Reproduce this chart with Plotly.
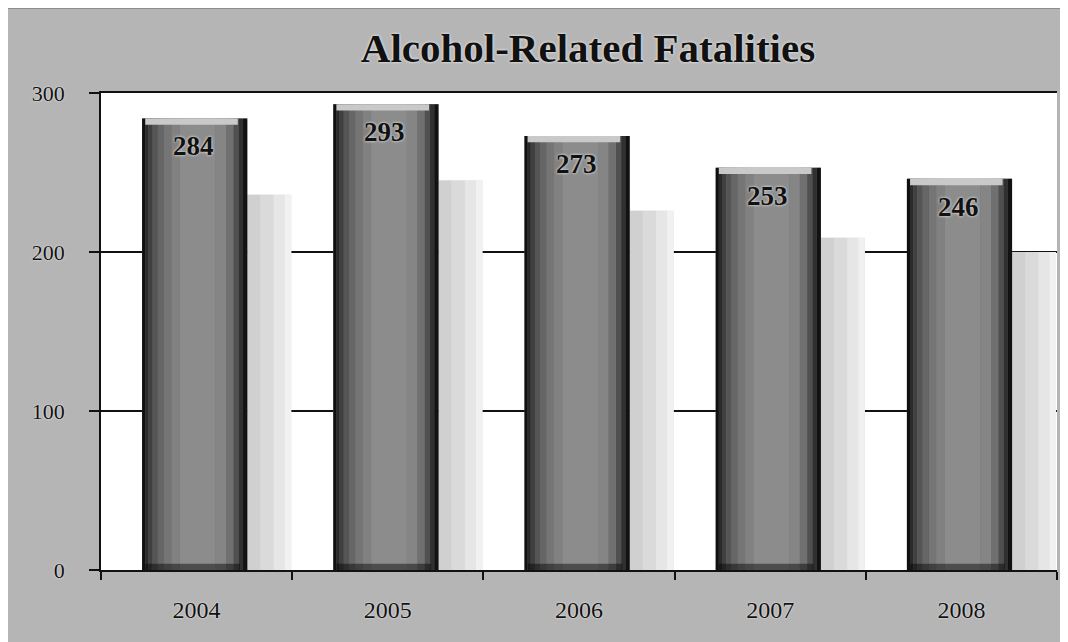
import plotly.graph_objects as go

# ---- data ----
years = ["2004", "2005", "2006", "2007", "2008"]
fatalities = [284, 293, 273, 253, 246]
shadow_heights = [236, 245, 226, 209, 200]   # light "drop shadow" behind each bar
y_ticks = [0, 100, 200, 300]
title_text = "Alcohol-Related Fatalities"

# ---- style constants ----
SERIF = "Liberation Serif, Times New Roman, serif"
FIG_W, FIG_H = 1060, 634   # page adds an 8px body margin
BAR_OFF = -0.285      # bar left edge relative to category centre (category units)
BAR_W = 0.55
SHADOW_W = 0.23
CAP = 4               # height of light top cap (data units)
BOTTOM = 4            # height of dark bottom band (data units)

# vertical strips giving a cylinder-like gradient (fraction start, end, colour)
strips = [
    (0.00, 0.03, "#101010"),
    (0.03, 0.06, "#2a2a2a"),
    (0.06, 0.10, "#404040"),
    (0.10, 0.15, "#555555"),
    (0.15, 0.21, "#666666"),
    (0.21, 0.28, "#757575"),
    (0.28, 0.36, "#818181"),
    (0.36, 0.70, "#8c8c8c"),
    (0.70, 0.80, "#858585"),
    (0.80, 0.87, "#707070"),
    (0.87, 0.92, "#505050"),
    (0.92, 0.96, "#303030"),
    (0.96, 1.00, "#121212"),
]
shadow_strips = [
    (0.00, 0.30, "#d0d0d0"),
    (0.30, 0.60, "#dadada"),
    (0.60, 0.85, "#e6e6e6"),
    (0.85, 1.00, "#f1f1f1"),
]


def add_strips(fig, values, left, total_w, spec, base_color):
    # solid underlay so antialiasing seams between strips do not show white
    fig.add_trace(go.Bar(
        x=years, y=values, offset=left, width=total_w,
        marker=dict(color=base_color, line=dict(width=0)),
        hoverinfo="skip", showlegend=False,
    ))
    for s0, s1, col in spec:
        fig.add_trace(go.Bar(
            x=years, y=values,
            offset=left + s0 * total_w, width=(s1 - s0) * total_w,
            marker=dict(color=col, line=dict(width=0)),
            hoverinfo="skip", showlegend=False,
        ))


fig = go.Figure()

# shadows, then bars
add_strips(fig, shadow_heights, BAR_OFF + BAR_W, SHADOW_W, shadow_strips, "#dcdcdc")
add_strips(fig, fatalities, BAR_OFF, BAR_W, strips, "#707070")

# dark bottom band
fig.add_trace(go.Bar(
    x=years, y=[BOTTOM] * len(years), base=[0] * len(years),
    offset=BAR_OFF + 0.03 * BAR_W, width=0.9 * BAR_W,
    marker=dict(color="rgba(0,0,0,0.45)", line=dict(width=0)),
    hoverinfo="skip", showlegend=False,
))

# light top cap
fig.add_trace(go.Bar(
    x=years, y=[CAP] * len(years), base=[v - CAP for v in fatalities],
    offset=BAR_OFF + 0.03 * BAR_W, width=0.88 * BAR_W,
    marker=dict(color="#c9c9c9", line=dict(width=0)),
    hovertemplate="%{x}<extra></extra>", showlegend=False,
))

# value labels (category index positions on the category axis)
for i, v in enumerate(fatalities):
    fig.add_annotation(
        x=i, y=v, xref="x", yref="y", text=str(v), showarrow=False,
        yanchor="top", yshift=-11, xshift=-3,
        font=dict(family=SERIF, size=27, color="#111111",
                  weight="bold", shadow="0px 0px 3px #ffffff"),
    )

# outer frame of the picture
fig.add_shape(type="rect", xref="paper", yref="paper",
              x0=-0.0985, x1=1.0075, y0=-0.2, y1=1.18,
              line=dict(color="#1a1a1a", width=2), fillcolor="rgba(0,0,0,0)",
              layer="above")

fig.update_layout(
    width=FIG_W, height=FIG_H,
    margin=dict(l=93, r=11, t=85, b=72, autoexpand=False),
    paper_bgcolor="#b5b5b5",
    plot_bgcolor="#ffffff",
    barmode="overlay",
    showlegend=False,
    title=dict(
        text=title_text, x=580 / FIG_W, xanchor="center",
        y=1 - 40 / FIG_H, yanchor="middle",
        font=dict(family=SERIF, size=41, color="#111111", weight="bold",
                  shadow="0px 0px 3px #ffffff"),
    ),
    xaxis=dict(
        type="category", tickson="boundaries", range=[-0.5, len(years) - 0.5],
        automargin=False, tickangle=0,
        ticks="outside", ticklen=8, tickwidth=1.5, tickcolor="#111111",
        showline=True, linecolor="#111111", linewidth=2, mirror=True,
        showgrid=False, ticklabelstandoff=17,
        tickfont=dict(family=SERIF, size=24, color="#111111",
                      shadow="0px 0px 2px #ffffff"),
        fixedrange=True,
    ),
    yaxis=dict(
        range=[0, 300], tickvals=y_ticks, ticktext=[str(t) for t in y_ticks],
        automargin=False,
        ticks="outside", ticklen=10, tickwidth=1.5, tickcolor="#111111",
        showline=True, linecolor="#111111", linewidth=1.5,
        showgrid=True, gridcolor="#111111", gridwidth=1.5,
        zeroline=False, ticklabelstandoff=20,
        tickfont=dict(family=SERIF, size=22, color="#111111",
                      shadow="0px 0px 2px #ffffff"),
        fixedrange=True,
    ),
)

fig.write_html("out.html")
